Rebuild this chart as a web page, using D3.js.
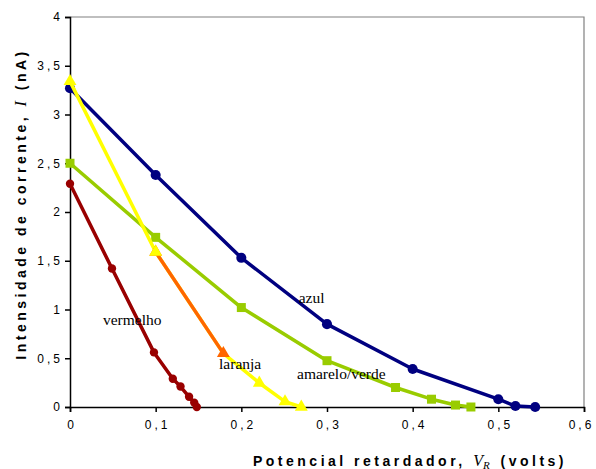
<!DOCTYPE html>
<html>
<head>
<meta charset="utf-8">
<script src="https://cdn.jsdelivr.net/npm/d3@7"></script>
<style>
  body { margin: 0; background: #fff; }
  svg { display: block; }
</style>
</head>
<body>
<script>
// curvas de corrente vs potencial retardador
var azulV = [0, 0.1, 0.2, 0.3, 0.4, 0.5, 0.52, 0.543];
var azulI = [3.27, 2.38, 1.53, 0.85, 0.39, 0.08, 0.01, 0];

var verdeV = [0, 0.1, 0.2, 0.3, 0.38, 0.422, 0.45, 0.468];
var verdeI = [2.5, 1.74, 1.02, 0.475, 0.2, 0.08, 0.02, 0];

var vermelhoV = [0, 0.049, 0.098, 0.12, 0.129, 0.139, 0.145, 0.148];
var vermelhoI = [2.29, 1.42, 0.56, 0.29, 0.21, 0.105, 0.045, 0];

var amareloV = [0, 0.1, 0.179, 0.221, 0.251, 0.27];
var amareloI = [3.34, 1.59, 0.55, 0.246, 0.055, 0];

var laranjaV = [0.1, 0.179];
var laranjaI = [1.59, 0.55];

var xTicks = [0, 0.1, 0.2, 0.3, 0.4, 0.5, 0.6];
var yTicks = [0, 0.5, 1, 1.5, 2, 2.5, 3, 3.5, 4];

var rotulos = ['azul', 'vermelho', 'laranja', 'amarelo/verde'];
var rotuloV = [0.267, 0.0385, 0.174, 0.265];
var rotuloI = [1.067, 0.84, 0.39, 0.287];

var width = 596;
var height = 469;

var svg = d3.select('body')
    .append('svg')
    .attr('width', width)
    .attr('height', height)

var x = d3.scaleLinear()
    .domain([0, 0.6])
    .range([70, 584]);

var y = d3.scaleLinear()
    .domain([0, 4])
    .range([407, 17]);

var virgula = d => String(d).replace('.', ',')

// moldura (topo e direita em cinza)
svg.append('path')
    .attr('d', 'M' + x(0) + ',' + y(4) + 'H' + x(0.6) + 'V' + y(0))
    .attr('fill', 'none')
    .attr('stroke', '#808080')
    .attr('stroke-width', 1.2)

var xAxis = d3.axisBottom(x)
    .tickValues(xTicks)
    .tickFormat(virgula)
    .tickSize(5)
    .tickPadding(8)

var yAxis = d3.axisLeft(y)
    .tickValues(yTicks)
    .tickFormat(virgula)
    .tickSize(5)
    .tickPadding(5)

var xAxisGroup = svg.append('g')
    .attr('transform', 'translate(0,' + y(0) + ')')
    .call(xAxis)

var yAxisGroup = svg.append('g')
    .attr('transform', 'translate(' + x(0) + ',0)')
    .call(yAxis)

svg.selectAll('.domain, .tick line')
    .attr('stroke', '#000')
    .attr('stroke-width', 1.5)

svg.selectAll('.tick text')
    .attr('font-family', 'Liberation Sans, Arial, sans-serif')
    .attr('font-size', 12)
    .attr('letter-spacing', 3)
    .attr('fill', '#000')

xAxisGroup.selectAll('.tick text').attr('dx', 1.5)
xAxisGroup.select('.tick:last-of-type text').attr('dx', -3)
yAxisGroup.selectAll('.tick text').attr('dx', 3)

// titulos dos eixos
var yTitle = svg.append('text')
    .attr('transform', 'translate(26,' + 204 + ') rotate(-90)')
    .attr('text-anchor', 'middle')
    .attr('font-family', 'Liberation Sans, Arial, sans-serif')
    .attr('font-weight', 'bold')
    .attr('font-size', 14)
    .attr('letter-spacing', 3.5)

yTitle.append('tspan').text('Intensidade de corrente, ')
yTitle.append('tspan')
    .attr('font-family', 'Liberation Serif, Times New Roman, serif')
    .attr('font-style', 'italic')
    .attr('font-weight', 'normal')
    .attr('font-size', 16)
    .text('I')
yTitle.append('tspan').text(' (nA)')

var xTitle = svg.append('text')
    .attr('x', 410)
    .attr('y', 466)
    .attr('text-anchor', 'middle')
    .attr('font-family', 'Liberation Sans, Arial, sans-serif')
    .attr('font-weight', 'bold')
    .attr('font-size', 14)
    .attr('letter-spacing', 3.5)

xTitle.append('tspan').text('Potencial retardador, ')
xTitle.append('tspan')
    .attr('font-family', 'Liberation Serif, Times New Roman, serif')
    .attr('font-style', 'italic')
    .attr('font-weight', 'normal')
    .attr('font-size', 16)
    .attr('letter-spacing', 0)
    .text('V')
xTitle.append('tspan')
    .attr('font-family', 'Liberation Serif, Times New Roman, serif')
    .attr('font-style', 'italic')
    .attr('font-weight', 'normal')
    .attr('font-size', 11)
    .attr('dy', 3)
    .text('R')
xTitle.append('tspan')
    .attr('dy', -3)
    .text(' (volts)')

function pontos(vs, is) {
    return vs.map((v, k) => ({ v: v, i: is[k] }))
}

function plotLine(data, color) {
    var line = d3.line()
        .x(d => x(d.v))
        .y(d => y(d.i))

    svg.append('path')
        .datum(data)
        .attr('fill', 'none')
        .attr('stroke', color)
        .attr('stroke-width', 3.5)
        .attr('stroke-linejoin', 'round')
        .attr('d', line)
}

function plotMarkers(data, color, type, size) {
    svg.append('g')
        .selectAll('path')
        .data(data)
        .join('path')
        .attr('transform', d => 'translate(' + x(d.v) + ',' + y(d.i) + ')')
        .attr('d', d3.symbol().type(type).size(size))
        .attr('fill', color)
}

var vermelho = pontos(vermelhoV, vermelhoI)
var verde = pontos(verdeV, verdeI)
var azul = pontos(azulV, azulI)
var amarelo = pontos(amareloV, amareloI)
var laranja = pontos(laranjaV, laranjaI)

plotLine(vermelho, '#990000')
plotMarkers(vermelho, '#990000', d3.symbolCircle, 55)

plotLine(verde, '#99CC00')
plotMarkers(verde, '#99CC00', d3.symbolSquare, 81)

plotLine(azul, '#000080')
plotMarkers(azul, '#000080', d3.symbolCircle, 80)

plotLine(amarelo, '#FFFF00')
plotLine(laranja, '#FF6600')
plotMarkers(laranja, '#FF6600', d3.symbolTriangle, 72)
plotMarkers(amarelo.filter(d => d.v !== laranjaV[laranjaV.length - 1]), '#FFFF00', d3.symbolTriangle, 72)

// nomes das curvas
svg.append('g')
    .selectAll('text')
    .data(rotulos)
    .join('text')
    .attr('x', (d, k) => x(rotuloV[k]))
    .attr('y', (d, k) => y(rotuloI[k]))
    .attr('font-family', 'Liberation Serif, Times New Roman, serif')
    .attr('font-size', 15.5)
    .attr('fill', '#000')
    .text(d => d)
</script>
</body>
</html>
